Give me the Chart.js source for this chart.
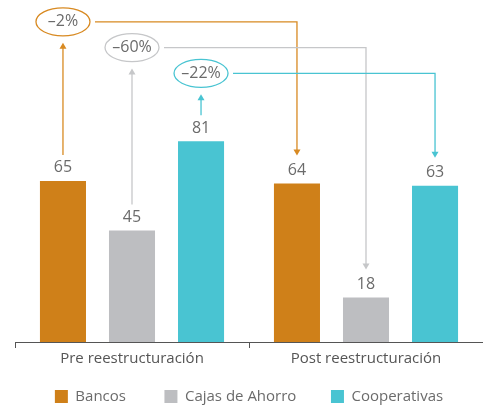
<!DOCTYPE html>
<html>
<head>
<meta charset="utf-8">
<script src="https://cdn.jsdelivr.net/npm/chart.js@4/dist/chart.umd.min.js"></script>
<style>
  html, body { margin: 0; padding: 0; background: #fff; }
  #wrap { width: 483px; height: 406px; position: relative; }
</style>
</head>
<body>
<div id="wrap"><canvas id="myChart"></canvas></div>
<script>
const categories = ["Pre reestructuración", "Post reestructuración"];
const seriesNames = ["Bancos", "Cajas de Ahorro", "Cooperativas"];
const bancos = [65, 64];
const cajas = [45, 18];
const cooperativas = [81, 63];
const changeLabels = ["–2%", "–60%", "–22%"];

const barColors = ["#CF8019", "#BDBEC1", "#49C4D2"];
const lineColors = ["#D88A22", "#C6C7C9", "#49C4D2"];
const textColor = "#6b6b6b";
const fontFamily = "'Open Sans', 'DejaVu Sans', sans-serif";
// extra room after each legend entry
const legendGap = ["     ", "    ", ""];

// draws value labels, ellipses and connector arrows from bar positions
const annotations = {
  id: "annotations",
  afterDatasetsDraw(chart) {
    const ctx = chart.ctx;
    const y = chart.scales.y;
    const levels = [129.2, 118.8, 108.4];
    ctx.save();
    ctx.font = "16px " + fontFamily;
    ctx.fillStyle = textColor;
    ctx.textAlign = "center";
    ctx.textBaseline = "middle";
    chart.data.datasets.forEach((ds, i) => {
      chart.getDatasetMeta(i).data.forEach((bar, j) => {
        ctx.fillText(String(ds.data[j]), bar.x, bar.y - 13);
      });
    });

    chart.data.datasets.forEach((ds, i) => {
      const pre = chart.getDatasetMeta(i).data[0];
      const post = chart.getDatasetMeta(i).data[1];
      const cy = y.getPixelForValue(levels[i]);
      const rx = 27, ry = 14;
      ctx.strokeStyle = lineColors[i];
      ctx.lineWidth = 1.3;
      // ellipse
      ctx.beginPath();
      ctx.ellipse(pre.x, cy, rx, ry, 0, 0, Math.PI * 2);
      ctx.stroke();
      ctx.fillStyle = textColor;
      ctx.fillText(changeLabels[i], pre.x, cy);
      // up arrow from pre label to ellipse
      const upFrom = pre.y - 26;
      const upTo = cy + ry + 7;
      ctx.fillStyle = lineColors[i];
      ctx.beginPath();
      ctx.moveTo(pre.x, upFrom);
      ctx.lineTo(pre.x, upTo + 5);
      ctx.stroke();
      ctx.beginPath();
      ctx.moveTo(pre.x, upTo);
      ctx.lineTo(pre.x - 3.5, upTo + 6);
      ctx.lineTo(pre.x + 3.5, upTo + 6);
      ctx.closePath();
      ctx.fill();
      // connector to post bar
      const downTo = post.y - 28;
      ctx.beginPath();
      ctx.moveTo(pre.x + rx + 5, cy);
      ctx.lineTo(post.x, cy);
      ctx.lineTo(post.x, downTo - 5);
      ctx.stroke();
      ctx.beginPath();
      ctx.moveTo(post.x, downTo);
      ctx.lineTo(post.x - 3.5, downTo - 6);
      ctx.lineTo(post.x + 3.5, downTo - 6);
      ctx.closePath();
      ctx.fill();
    });
    ctx.restore();
  }
};

const chartConfig = {
  type: "bar",
  data: {
    labels: categories,
    datasets: [
      { label: seriesNames[0], data: bancos, backgroundColor: barColors[0] },
      { label: seriesNames[1], data: cajas, backgroundColor: barColors[1] },
      { label: seriesNames[2], data: cooperativas, backgroundColor: barColors[2] },
    ],
  },
  options: {
    responsive: false,
    animation: false,
    devicePixelRatio: 1,
    categoryPercentage: 0.885,
    barPercentage: 0.667,
    layout: { padding: { left: 15, right: 0, top: 0, bottom: -8 } },
    plugins: {
      tooltip: { enabled: false },
      legend: {
        position: "bottom",
        labels: {
          boxWidth: 13,
          boxHeight: 13,
          padding: 19,
          color: textColor,
          font: { family: fontFamily, size: 15 },
          generateLabels(chart) {
            const items = Chart.defaults.plugins.legend.labels.generateLabels(chart);
            items.forEach((item, i) => {
              item.text = item.text + legendGap[i];
            });
            return items;
          },
        },
      },
    },
    scales: {
      y: { display: false, min: 0, max: 138 },
      x: {
        border: { display: true, color: "#555", width: 1 },
        grid: {
          offset: true,
          drawOnChartArea: false,
          drawTicks: true,
          tickLength: 6,
          color: "#555",
        },
        ticks: {
          color: "#555",
          padding: 2,
          font: { family: fontFamily, size: 15 },
        },
      },
    },
  },
  plugins: [annotations],
};

const canvas = document.getElementById("myChart");
canvas.width = 483;
canvas.height = 406;
const myChart = new Chart(canvas, chartConfig);
</script>
</body>
</html>
